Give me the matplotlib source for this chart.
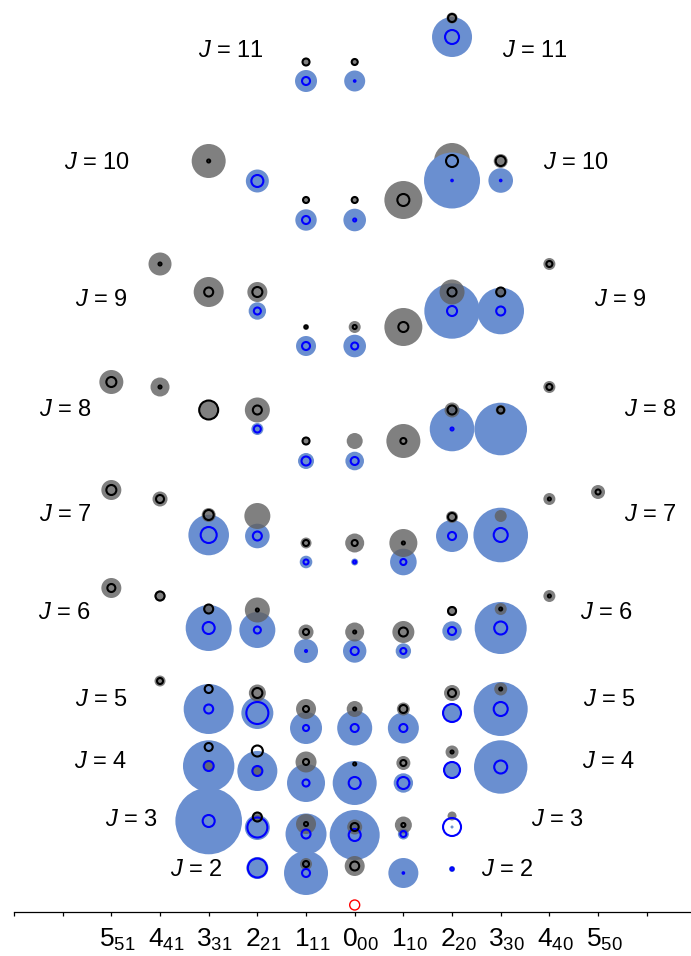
import matplotlib
matplotlib.use('Agg')
import matplotlib.pyplot as plt
import matplotlib.transforms as mtransforms
import numpy as np

plt.rcParams['font.family'] = 'Liberation Sans'
plt.rcParams['mathtext.fontset'] = 'custom'
plt.rcParams['mathtext.rm'] = 'Liberation Sans'
plt.rcParams['mathtext.it'] = 'Liberation Sans:italic'

# column positions on the x axis (K labels)
tick_pos = [-7, -6, -5, -4, -3, -2, -1, 0, 1, 2, 3, 4, 5, 6]
tick_lab = ['', '', r'$5_{51}$', r'$4_{41}$', r'$3_{31}$', r'$2_{21}$', r'$1_{11}$',
            r'$0_{00}$', r'$1_{10}$', r'$2_{20}$', r'$3_{30}$', r'$4_{40}$', r'$5_{50}$', '']

# grey discs (upper level) : column, level height, disc radius, black ring radius
grey_x = [-1, 0, 2,
          -3, -1, 0, 1, 2, 3,
          -4, -3, -2, -1, 0, 1, 2, 3, 4,
          -5, -4, -3, -2, -1, 0, 1, 2, 3, 4,
          -5, -4, -3, -2, -1, 0, 1, 2, 3, 4, 5,
          -5, -4, -3, -2, -1, 0, 1, 2, 3, 4,
          -4, -3, -2, -1, 0, 1, 2, 3,
          -3, -2, -1, 0, 1, 2,
          -2, -1, 0, 1, 2,
          -1, 0,
          -3, -2]
grey_y = [849.5, 849.5, 893.5,
          750.5, 711.5, 711.5, 711.5, 750.5, 750.5,
          647.5, 619.5, 619.5, 584.5, 584.5, 584.5, 619.5, 619.5, 647.5,
          529.5, 524.5, 501.5, 501.5, 470.5, 470.5, 470.5, 501.5, 501.5, 524.5,
          421.5, 412.5, 396.5, 395.5, 368.5, 368.5, 368.5, 394.5, 395.5, 412.5, 419.5,
          323.5, 315.5, 302.5, 301.5, 279.5, 279.5, 279.5, 300.5, 302.5, 315.5,
          230.5, 222.5, 218.5, 202.5, 202.5, 202.5, 218.5, 222.5,
          164.5, 160.5, 149.5, 147.5, 148.5, 159.5,
          94.5, 87.5, 84.5, 86.5, 95.5,
          47.5, 45.5,
          145.5, 140.5]
grey_r = [4, 3.5, 5.5,
          17, 3.5, 3.5, 19, 18, 7,
          11.5, 15, 10, 3, 6, 19, 12.5, 5, 6,
          12, 9.5, 9.5, 12.5, 4, 8, 17, 7.5, 5, 6,
          10, 7.5, 7, 13, 5.5, 9.5, 14, 6, 6, 6, 7,
          10, 5.5, 5, 12.5, 7.5, 9.5, 11, 5, 6, 6,
          5.5, 0, 8.5, 10, 8, 6.5, 8, 6.5,
          0, 0, 10.5, 0, 7, 6.5,
          4.5, 10, 7.5, 8.5, 4.5,
          6, 10,
          5, 5]
ring_k = [3.5, 3, 4,
          1.5, 3, 3, 6, 6, 5,
          1.5, 4.5, 5, 1.5, 2, 5, 4.5, 4.5, 3,
          5, 1.5, 9.5, 4.5, 3.5, 0, 3, 4.5, 3.5, 3,
          5, 4, 5, 0, 3, 3, 1.5, 4, 0, 1.5, 2.5,
          4, 4.5, 4.5, 1.5, 3, 1.5, 4.5, 4, 1.5, 1.5,
          3, 4, 5, 3, 1.5, 4, 4, 1.5,
          4, 5.5, 3, 1.5, 3, 1.5,
          4.5, 2, 4, 2, 0,
          3, 4.5,
          0, 0]

# blue discs (lower level) : column, level height, disc radius, blue ring radius
blue_x = [-1, 0, 2,
          -2, -1, 0, 2, 3,
          -2, -1, 0, 2, 3,
          -2, -1, 0, 2, 3,
          -3, -2, -1, 0, 1, 2, 3,
          -3, -2, -1, 0, 1, 2, 3,
          -3, -2, -1, 0, 1, 2, 3,
          -3, -2, -1, 0, 1, 2, 3,
          -3, -2, -1, 0, 1, 2,
          -2, -1, 1, 2]
blue_y = [830.5, 830.5, 874.5,
          730.5, 691.5, 691.5, 731, 731,
          600.5, 565.5, 565.5, 600.5, 600.5,
          482.5, 450.5, 450.5, 482.5, 482.5,
          376.5, 375.5, 349.5, 349.5, 349.5, 375.5, 376.5,
          283.5, 281.5, 260.5, 260.5, 260.5, 280.5, 283.5,
          202.5, 198.5, 183.5, 183.5, 183.5, 198.5, 202.5,
          145.5, 140.5, 128.5, 128.5, 128.5, 141.5, 144.5,
          90.5, 84, 77.5, 76.5, 77.5, 84.5,
          43.5, 38.5, 38.5, 42.5]
blue_r = [11, 10.5, 20,
          11.5, 10.7, 11.3, 28, 12.3,
          8.7, 10, 11.3, 27.7, 23.3,
          6, 8, 9.3, 22.3, 26.3,
          20.3, 12.3, 6.3, 3.5, 13.3, 16, 27.3,
          23, 18, 12, 11.7, 7.7, 9.7, 26,
          25, 16, 16, 17.5, 15.5, 9, 27,
          25.7, 20, 19, 22, 9.7, 8.5, 26.7,
          33.3, 12.5, 20.5, 25, 5.5, 1.5,
          11, 22, 15, 3]
ring_b = [4, 0.8, 7,
          6, 4, 1.5, 0.8, 0.8,
          3.5, 4, 3.5, 5, 4.5,
          3.5, 4.5, 4, 1.5, 0,
          8, 4.5, 2.5, 1.5, 3, 4, 7,
          6, 3.5, 1, 4, 3, 4, 6.5,
          4.5, 11, 3, 4, 4, 9, 7,
          5, 5, 3.5, 6, 6, 8, 6.5,
          6, 10, 4.5, 6, 3, 9,
          9.5, 4, 0.8, 1.5]

# reference level (0_00, J = 0)
origin_x = [0]
origin_y = [6.5]

J_values = [11, 10, 9, 8, 7, 6, 5, 4, 3, 2]

def pts(r):
    return (1.44 * np.asarray(r, dtype=float)) ** 2

fig = plt.figure(figsize=(6.91, 9.56), dpi=100)
ax = fig.add_axes([14 / 691, 44.5 / 956, 677 / 691, 911.5 / 956])

gx = np.array(grey_x, dtype=float)
gy = np.array(grey_y)
gr = np.array(grey_r)
gk = np.array(ring_k)
bx = np.array(blue_x, dtype=float)
by = np.array(blue_y)
br = np.array(blue_r)
bk = np.array(ring_b)

big = gr >= 18
ax.scatter(gx[big], gy[big], s=pts(gr[big]), color='#606060', alpha=0.8,
           linewidths=0, zorder=1, clip_on=False)
ax.scatter(bx, by, s=pts(br), color='#6a8fd0', linewidths=0, zorder=2, clip_on=False)
ax.scatter(gx[~big], gy[~big], s=pts(gr[~big]), color='#606060', alpha=0.8,
           linewidths=0, zorder=3, clip_on=False)
m = bk > 0
ax.scatter(bx[m], by[m], s=pts(bk[m]), facecolors='none', edgecolors='#0000ff',
           linewidths=1.5, zorder=4, clip_on=False)
m = gk > 0
ax.scatter(gx[m], gy[m], s=pts(gk[m]), facecolors='none', edgecolors='black',
           linewidths=1.5, zorder=5, clip_on=False)
ax.scatter(origin_x, origin_y, s=pts([5]), facecolors='none', edgecolors='red',
           linewidths=1.0, zorder=5, clip_on=False)

# J labels on both sides of each ladder
left_px = [(231, 51), (97, 163), (101, 300), (65, 410), (65, 515), (65, 613),
           (101, 700), (101, 762), (131, 820), (196, 870)]
right_px = [(535, 51), (576, 163), (620, 300), (650, 410), (650, 515), (606, 613),
            (609, 700), (609, 762), (557, 820), (507, 870)]
for J, (lx, ly), (rx, ry) in zip(J_values, left_px, right_px):
    for px, py in ((lx, ly), (rx, ry)):
        ax.text((px - 354.7) / 48.67, 911.5 - py, r'$J$ = %d' % J, fontsize=17,
                ha='center', va='center', zorder=6)

ax.set_xlim(-7, (691 - 354.7) / 48.67)
ax.set_ylim(0, 911.5)
ax.set_xticks(tick_pos)
ax.set_xticklabels(tick_lab, fontsize=19)
ax.tick_params(axis='x', direction='out', length=3, width=0.9, pad=8)
shift = mtransforms.ScaledTranslation(6 / 100, 0, fig.dpi_scale_trans)
for lab in ax.get_xticklabels():
    lab.set_transform(lab.get_transform() + shift)
ax.set_yticks([])
for side in ['left', 'right', 'top']:
    ax.spines[side].set_visible(False)
ax.spines['bottom'].set_linewidth(0.9)
ax.patch.set_alpha(0)

fig.savefig('out.png', dpi=100)
